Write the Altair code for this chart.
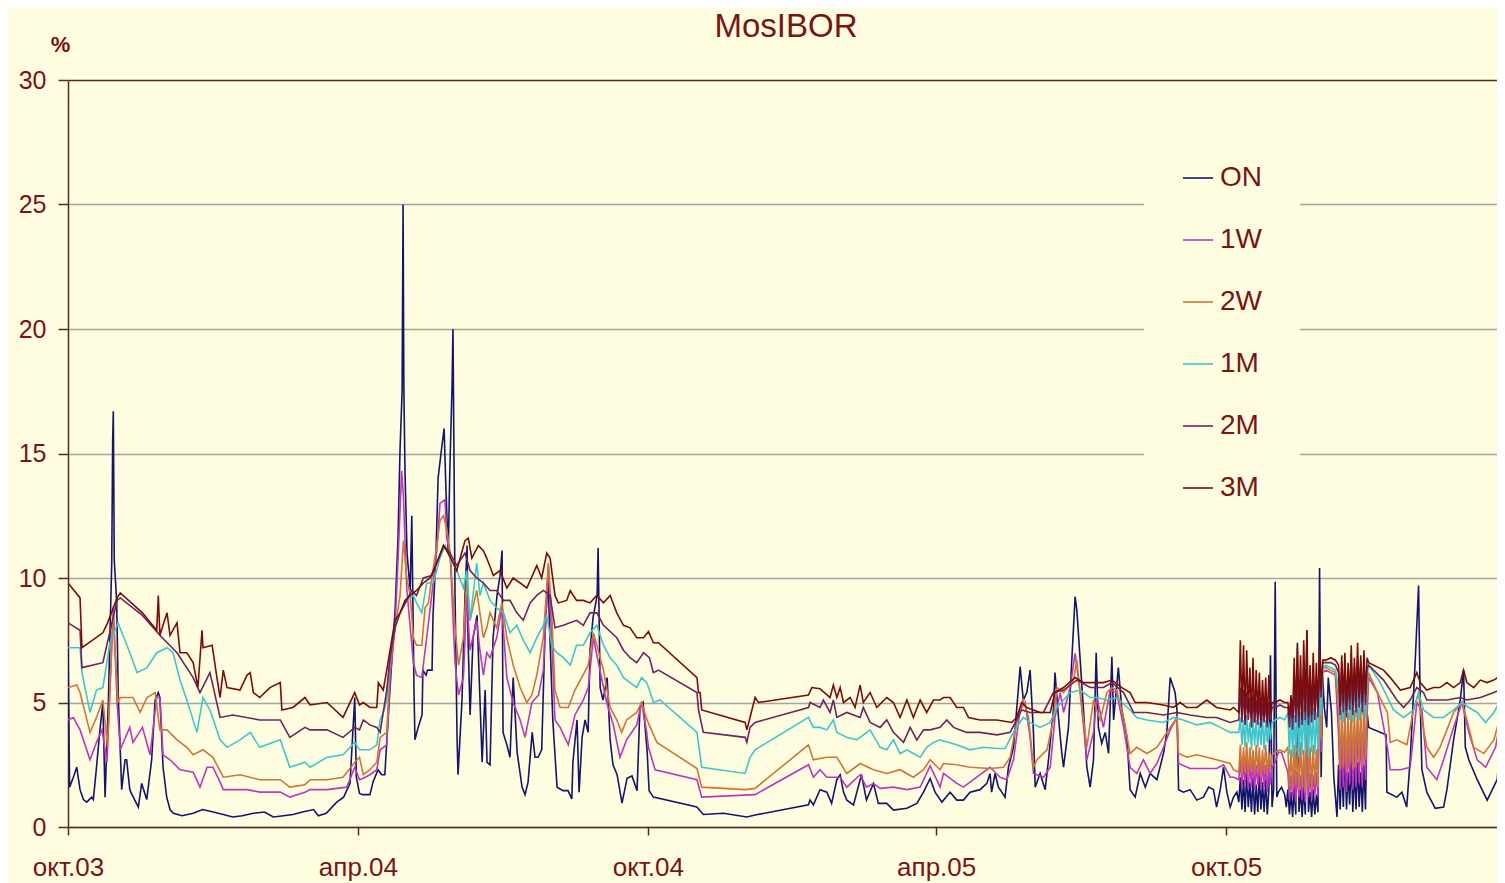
import altair as alt
import pandas as pd

# ---------------- data (day = days since 2003-10-01, value in %) ----------------
chart_title = "MosIBOR"
series_names = ["ON", "1W", "2W", "1M", "2M", "3M"]
series_colors = ["#14146e", "#bd36bd", "#cf7538", "#3cc6cf", "#6e2260", "#7a0c0c"]

x_tick_dates = ["2003-10-01", "2004-04-01", "2004-10-01", "2005-04-01", "2005-10-01"]
x_tick_labels = ["окт.03", "апр.04", "окт.04", "апр.05", "окт.05"]
y_ticks = [0, 5, 10, 15, 20, 25, 30]

zone1_days = list(range(740, 761))
zone2_days = list(range(770, 793))
zone3_days = list(range(802, 821))

on_pts = [(0,7.5),(1,1.6),(3.4,2.0),(5.5,2.4),(7.6,1.5),(9.7,1.1),(11.8,1.0),(15,1.2),(16,1.1),(18,2.4),(20,3.8),(22,5.0),(23.4,1.2),(25.5,5.1),(27.6,10.6),(28.2,15.5),(28.6,16.7),(29.2,10.7),(30.7,9.1),(31.8,5.1),(33.9,1.5),(36,2.7),(37,2.7),(39,1.5),(40,1.35),(44.4,0.8),(46.5,1.75),(49.7,1.1),(52.8,2.7),(55,5.1),(57,5.4),(58,5.2),(60,2.4),(62.3,1.2),(64.4,0.7),(66.5,0.55),(72,0.45),(79,0.55),(85,0.7),(91.7,0.6),(98,0.5),(104,0.4),(110,0.45),(117,0.55),(124,0.6),(129.6,0.4),(136,0.45),(142,0.5),(148,0.6),(155,0.7),(158,0.45),(163,0.55),(169.6,1.0),(174,1.2),(178,1.75),(181,5.2),(182,2.0),(184,1.35),
(186,1.3),(190.6,1.3),(192.5,1.8),(195.7,2.3),(198,2.1),(200,2.1),(202,4.3),(204.5,6.8),(206.4,8.6),(208.3,11.6),(209.6,15.2),(210.9,17.5),(211.5,25.0),(212,17.65),(212.7,14.3),(214,11.0),(216,9.5),(217,12.5),(218.4,5.5),(219,3.5),(221,4.0),(223.5,4.5),(224,6.3),(226,6.1),(227,6.3),(229.8,6.3),(230.4,8.5),(232.3,11.0),(233.6,14.0),(236,15.3),(237.4,16.0),(238.6,13.5),(240,11.0),(241,14.3),(242.4,17.65),(243,20.0),(243.7,14.3),(244.3,9.3),(245.6,3.5),(246.2,2.1),(248.7,5.1),(250.6,9.3),(251.9,11.3),(252.5,7.6),(253.8,4.5),(255.7,7.6),(258.2,8.5),(261.4,2.6),(263.3,5.5),(264.5,2.6),(266.4,2.5),(268.3,7.6),(270.8,9.3),(272.7,10.1),(274,11.1),(274.6,3.8),(277,3.3),(279,2.8),(281,6.0),(283.5,3.0),(286.6,1.6),(288.5,1.3),(290.4,1.8),(293,3.8),(294.8,2.8),(296.7,2.8),(299,3.1),(301,7.6),(303,10.1),(304,8.0),(306,4.3),(308.7,1.6),(312.5,1.46),(315.6,1.46),(318,1.13),(318.7,2.6),(321.3,4.3),(322.6,1.4),(324.5,3.6),(326.4,4.3),(328.3,3.8),(329.5,7.1),(331.4,8.4),(334,9.3),(334.6,11.2),(335.9,5.6),(337.7,5.1),(340.3,6.0),(342.2,3.5),(344,2.5),(346.6,2.1),(349.7,0.96),(352.9,1.96),(356,2.05),(359.2,1.46),(361,4.8),(363,5.0),(365.5,3.1),(366.8,1.46),
(369.5,1.2),(397,0.8),(401,0.5),(413.7,0.55),(428.5,0.4),(433.7,0.48),(467.4,0.89),(468.4,1.08),(470.5,0.89),(474.7,1.5),(479,1.4),(482,0.95),(485.3,1.9),(487.4,2.1),(489.5,1.4),(491.6,1.08),(495.8,0.89),(500,1.9),(501,2.05),(504,1.08),(508.4,1.75),(511.5,0.95),(516.8,0.95),(521,0.68),(529.5,0.75),(535.8,0.95),(540,1.4),(544.2,1.95),
(547.3,1.4),(551.6,1.0),(556.8,1.4),(561,1.08),(565.2,1.08),(569.4,1.4),(575.7,1.5),(580,1.75),(582,2.15),(583,1.4),(585.2,2.15),(587.3,1.6),(589.4,1.4),(591.5,1.2),(593.6,2.4),(596.8,3.2),(599.3,5.1),(601,6.44),(603,5.1),(605.2,5.4),(607.3,6.3),(609.4,3.8),(610.5,1.6),(613.6,2.15),(616.8,1.5),(618.9,2.7),(622,4.7),(623,6.2),(625.2,4.4),(627.3,2.96),(628.4,2.4),(631.5,4.0),(633.6,6.7),(635.7,9.25),(636.8,8.7),(638.9,6.7),(641,4.7),(643.1,2.4),(645.2,1.6),(647.3,2.7),(649,7.0),(650.4,4.0),(652.5,3.36),(654.7,3.8),(656.8,2.96),(658.9,6.84),(660,4.3),(663,6.4),(665.2,4.7),(668.4,3.6),(670.4,1.5),(673.6,1.2),(676.8,2.15),(680,1.6),(683,2.15),(687.3,1.9),(691.5,2.96),(693.6,3.8),(695.7,6.0),(698.8,5.4),(700,4.7),(701,1.5),(704,1.4),(708.3,1.5),(712.5,1.08),(716.7,1.2),(720,1.6),(723,1.5),(725,0.8),(727.3,1.5),(729.4,2.4),(731.5,1.4),(733.6,0.8),(735.7,1.2),(737.8,1.4),(739,1.0)]
on_z1 = [2.0,0.7,1.9,0.6,2.2,0.8,1.8,0.6,2.0,0.5,1.7,0.6,2.1,0.7,1.8,0.6,1.9,0.5,1.5,6.9,0.8]
on_gap1 = [(761,1.5),(762,9.85),(763,1.2),(764,1.4),(766,1.6),(768,1.3),(769,0.8)]
on_z2 = [1.5,0.5,1.4,0.4,1.6,0.5,7.4,0.6,1.5,0.4,1.6,0.5,7.9,0.6,1.4,0.4,1.5,0.5,1.3,0.6,10.4,2.0,6.0]
on_gap2 = [(793,4.8),(794.5,4.0),(795.5,6.0),(797.5,4.6),(799,2.0),(801,0.4)]
on_z3 = [2.5,0.7,2.6,0.8,3.0,0.7,2.2,0.9,2.7,0.6,2.4,0.7,2.6,0.8,2.2,0.6,2.5,0.7,4.6]
on_tail = [(821,4.0),(832,3.7),(832.5,1.4),(838.8,1.2),(842,1.4),(845,0.8),(847.2,2.7),(850.4,6.7),(852.5,9.7),(853.5,5.1),(854.6,2.3),(857.7,1.4),(863,0.75),(868.3,0.8),(870.4,1.5),(874.6,3.5),(878.8,5.1),(880.9,6.3),(882,3.2),(884.2,2.7),(889.5,1.9),(895.8,1.08),(902.1,1.9),(907,5.4)]

w1_pts = [(0,4.3),(3.4,4.4),(7.6,3.9),(13.9,2.7),(18,3.4),(21.5,3.9),(24.6,2.6),(28.6,8.85),(31,5.0),(33,3.1),(39,4.0),(41,3.4),(47,4.0),(51.8,2.9),(56,5.2),(58,5.2),(60,2.9),(64.4,2.7),(70.7,2.3),(79,2.2),(83.3,1.6),(87.8,2.4),(91.5,2.4),(96,1.8),(98,1.5),(113,1.5),(121,1.4),(134,1.4),(140,1.2),(149.6,1.4),(152.8,1.5),(163.5,1.5),(176,1.6),(181,2.4),(184,1.9),
(186.4,1.96),(190.6,2.1),(194.9,2.3),(197,3.1),(201.2,3.3),(203.3,6.0),(206.4,8.0),(208.5,11.0),(210.6,14.3),(211.7,13.3),(213.8,9.6),(218,6.6),(220,6.1),(223.3,6.0),(226.4,7.6),(229.6,9.3),(232.8,11.1),(234.8,13.0),(238,13.15),(239,11.6),(241.2,11.0),(244.3,6.6),(246.5,5.3),(249.6,6.0),(251.7,9.3),(253.8,7.1),(258,8.3),(260,7.1),(262.2,6.1),(264.3,7.0),(266.4,6.8),(270.6,7.6),(273.8,8.8),(277,6.0),(281,5.0),(285.4,4.3),(288.5,3.6),(292.8,5.0),(297,5.3),(300,6.3),(303.2,10.5),(305.3,7.6),(307.4,4.3),(310.6,4.0),(315.8,3.3),(320,4.5),(325.3,5.1),(328.4,5.6),(331.6,7.6),(334.8,6.6),(340,5.0),(344.2,4.1),(348.4,2.8),(352.6,3.5),(359,4.1),(362,5.0),(365.3,3.8),(366.4,3.2),
(370.6,2.3),(397,1.9),(400,1.2),(433.7,1.3),(467.4,2.5),(470.5,2.0),(474.7,2.3),(479,2.0),(487.4,2.0),(491.6,1.6),(500,2.1),(504,1.6),(508.4,1.75),(512.6,1.55),(521,1.6),(529.5,1.5),(537.9,1.6),(544.2,2.45),(550.5,1.6),
(552.6,2.15),(561,1.75),(565.2,1.6),(573.6,2.0),(582,2.4),(588.4,2.0),(592.6,1.9),(596.8,2.7),(601,4.7),(604.1,5.0),(607.3,3.6),(609.4,2.15),(615.7,2.0),(620,2.4),(623,4.4),(626.3,5.4),(628.4,4.6),(632.6,5.6),(635.7,6.97),(638.9,5.4),(643.1,2.7),(647.3,3.8),(649.4,5.2),(653.6,4.0),(657.8,5.5),(662,5.4),(666.3,4.0),(670.4,2.4),(674.6,2.15),(678.8,2.7),(683,2.15),(687.3,2.55),(691.5,3.2),(695.7,3.9),(700,4.4),(701,2.55),(708.3,2.35),(716.7,2.35),(725,2.35),(729.4,2.5),(733.6,2.0),(736,2.0),(739,1.9)]
w1_z1 = [2.7,1.6,2.6,1.7,2.8,1.5,2.6,1.6,2.7,1.5,2.5,1.7,2.6,1.5,2.7,1.6,2.5,1.4,2.6,1.7,2.4]
w1_gap1 = [(762,2.6),(764,3.0),(766,3.0),(768,2.6)]
w1_z2 = [2.2,1.1,2.1,1.2,2.3,1.0,2.2,1.2,2.1,1.1,2.3,1.0,7.0,1.2,2.2,1.1,2.1,1.3,2.2,1.2,6.8,3.0,6.2]
w1_gap2 = [(794,6.3),(797,6.2),(800,6.1)]
w1_z3 = [3.7,1.5,3.6,1.6,3.8,1.4,3.5,1.7,3.9,1.5,3.6,1.6,4.0,1.8,3.8,1.6,4.1,1.9,4.5]
w1_tail = [(821,6.0),(826.5,5.4),(832.8,3.2),(834.6,2.3),(841,2.3),(847.2,2.4),(851.4,5.0),(854.6,4.7),(857.7,2.4),(864,1.9),(868.3,2.7),(874.6,4.0),(879.9,5.0),(884.2,3.8),(889.5,2.7),(894.8,2.4),(901.1,3.2),(907,5.4)]

w2_pts = [(0,5.6),(5.5,5.7),(7.6,5.4),(13.9,3.8),(18,4.4),(22,5.1),(25,3.2),(28.4,8.5),(31.6,5.0),(33,5.2),(41,5.2),(45.5,4.6),(49.9,5.2),(55,5.4),(58,3.9),(62.5,3.9),(68.8,3.5),(75,3.2),(79,2.9),(85.2,3.1),(91.5,2.8),(98,2.0),(108.6,2.1),(121,1.9),(134,1.9),(140,1.6),(149.6,1.7),(152.8,1.9),(163.5,1.9),(173.6,2.0),(181,2.6),(184,2.8),
(186.4,2.1),(190.6,2.3),(194.9,2.6),(197,3.6),(201.2,3.8),(203.3,6.5),(206.4,8.0),(209.6,9.3),(211.7,11.5),(213.8,10.0),(216,9.3),(218,7.6),(220,7.3),(223.3,7.3),(225.4,8.8),(227.5,9.0),(229.6,10.0),(232.8,11.3),(234.8,12.3),(237,12.5),(239,12.0),(241.2,11.0),(244.3,8.0),(246.5,6.5),(249.6,7.6),(251.7,10.0),(253.8,8.3),(258,9.5),(260,8.6),(262.2,7.6),(264.3,8.0),(266.4,8.6),(270.6,8.0),(273.8,9.0),(277,7.6),(281,6.5),(285.4,5.6),(289.6,5.0),(292.8,5.3),(295.9,6.1),(300,7.6),(303.2,10.6),(305.3,8.6),(307.4,5.5),(310.6,4.8),(315.8,4.8),(320,5.5),(324.2,6.0),(328.4,6.5),(331.6,7.8),(333.8,7.3),(338,6.3),(342.2,4.8),(346.4,4.3),(349.5,3.8),(352.6,4.3),(359,4.6),(362,5.0),(365.5,4.3),
(371.7,3.4),(397,2.35),(400,1.6),(427.4,1.5),(433.7,1.55),(467.4,3.3),(470.5,2.7),(474.7,2.75),(479,2.8),(485.3,2.8),(491.6,2.15),(500,2.55),(508.4,2.3),(516.8,2.15),(525.2,2.3),(533.6,2.0),(540,2.3),(544.2,2.7),(550.5,2.3),
(552.6,2.55),(561,2.5),(569.4,2.4),(582,2.35),(590.5,2.4),(594.7,2.8),(598.8,4.2),(603,5.1),(606.3,4.4),(609.4,2.4),(611.6,2.7),(617.9,3.1),(622,4.3),(624.2,5.6),(628.4,5.4),(634.7,5.9),(636.8,6.7),(638.9,5.4),(643.1,3.2),(647.3,5.1),(651.5,4.3),(655.7,5.4),(658.9,5.6),(662,5.5),(666.3,4.4),(670.4,2.95),(674.6,3.2),(681,2.95),(687.3,3.2),(691.5,3.6),(695.7,4.0),(700,4.4),(701,2.95),(706.2,2.8),(712.5,2.9),(718.8,2.8),(725,2.7),(733.6,2.55),(735.7,2.3),(739,2.2)]
w2_z1 = [3.3,2.1,3.2,2.2,3.4,2.0,3.2,2.3,3.1,2.1,3.3,2.2,3.2,2.0,3.1,2.2,3.3,2.1,3.0,2.3,2.9]
w2_gap1 = [(762,3.0),(765,3.1),(768,3.0)]
w2_z2 = [3.2,1.6,3.1,1.5,3.3,1.7,3.2,1.5,3.4,1.6,3.1,1.4,5.8,1.6,3.2,1.5,3.3,1.7,3.1,1.6,5.5,3.5,6.4]
w2_gap2 = [(794,6.4),(797,6.3),(800,6.2)]
w2_z3 = [4.9,2.3,4.7,2.4,4.8,2.2,4.6,2.5,4.9,2.3,4.7,2.4,5.0,2.6,4.8,2.4,5.1,2.7,5.3]
w2_tail = [(821,6.2),(826.5,5.4),(832.8,4.6),(834.6,3.4),(838.8,3.5),(845.1,3.3),(849.3,4.7),(852.5,5.4),(853.5,4.7),(857.7,3.2),(862,2.8),(866,3.2),(870.4,3.9),(874.6,4.6),(879.9,5.0),(883,4.3),(887.3,3.2),(893.7,2.95),(900,3.5),(907,5.1)]

m1_pts = [(0,7.2),(7.6,7.2),(8.8,6.2),(13.9,4.6),(18,5.5),(22,5.6),(26.5,7.4),(31.6,8.2),(39,7.0),(43.6,6.2),(49.9,6.4),(56,7.0),(62.5,7.2),(66.3,7.0),(70.7,5.9),(75,5.1),(81.4,3.8),(85.2,5.2),(89.6,4.7),(96,3.5),(100.4,3.2),(108.6,3.5),(115,3.8),(121,3.2),(134,3.5),(140,2.4),(149.6,2.6),(152.8,2.4),(163.5,2.8),(173.6,2.9),(181,3.4),(184,3.1),
(190.6,3.1),(194.9,3.3),(197,4.3),(199,4.6),(201.2,5.1),(203.3,6.8),(206.4,8.0),(209.6,8.6),(213.8,9.1),(218,9.3),(220,9.0),(223.3,8.6),(226.4,9.8),(230.6,9.8),(234.8,10.8),(238,11.3),(241.2,10.8),(245.4,10.3),(249.6,9.6),(251.7,10.3),(253.8,8.3),(258,10.6),(260,9.3),(262.2,9.8),(266.4,9.1),(270.6,8.8),(274.9,8.6),(279,7.8),(283.3,8.1),(287.4,7.5),(291.7,7.0),(295.9,7.6),(300,8.1),(302.2,8.5),(305.3,7.3),(308.5,7.0),(312.7,6.8),(317,6.5),(321,7.3),(325.3,7.3),(329.5,7.8),(333.8,8.1),(338,7.3),(342.2,6.8),(346.4,6.5),(350.6,6.0),(354.8,5.8),(359,5.6),(362,6.0),(365.3,5.8),(367,5.5),
(369.5,5.0),(373.7,5.1),(397,3.8),(400,2.4),(427.4,2.15),(430.5,2.8),(433.7,3.1),(467.4,4.4),(470.5,4.0),(474.7,4.0),(479,3.9),(483.1,4.3),(485.3,3.8),(491.6,3.6),(497.9,3.5),(506.3,3.9),(512.6,3.2),(516.8,3.1),(521,3.5),(525.2,2.95),(529.5,3.1),(533.6,2.95),(537.9,2.8),(542,3.2),(546.3,3.4),(550.5,3.5),
(552.6,3.45),(561,3.3),(569.4,3.1),(577.8,3.2),(586.3,3.15),(591.5,3.15),(596.8,3.8),(603,4.4),(607.3,4.2),(613.6,4.0),(620,4.2),(624.2,4.8),(632.6,5.4),(638.9,5.5),(645.2,5.2),(649.4,5.2),(655.7,5.1),(662,5.2),(670.4,4.7),(674.6,4.4),(681,4.3),(691.5,4.2),(697.8,4.4),(704,4.3),(712.5,4.1),(720.9,4.2),(727.3,4.0),(733.6,3.8),(739,3.8)]
m1_z1 = [4.4,3.3,4.3,3.2,4.5,3.4,4.2,3.1,4.4,3.3,4.3,3.2,4.2,3.3,4.4,3.1,4.3,3.4,4.2,3.5,4.2]
m1_gap1 = [(762,4.3),(765,4.4),(768,4.3)]
m1_z2 = [4.6,2.9,4.7,2.8,4.5,3.0,4.8,2.8,4.6,2.9,4.9,3.0,5.2,2.8,4.7,3.0,4.8,2.9,4.6,3.1,5.5,4.5,6.4]
m1_gap2 = [(794,6.5),(797,6.4),(800,6.3)]
m1_z3 = [5.6,4.3,5.7,4.2,5.5,4.4,5.8,4.3,5.6,4.2,5.7,4.4,5.9,4.3,5.6,4.5,5.8,4.4,6.0]
m1_tail = [(821,6.5),(828.3,5.8),(836.7,4.7),(843,4.4),(849.3,4.7),(852.5,5.4),(855.6,4.7),(862,4.4),(868.3,4.4),(874.6,4.7),(879.9,5.0),(884.2,4.8),(889.5,4.6),(894.8,4.2),(900,4.6),(907,5.4)]

m2_pts = [(0,8.2),(7.6,7.9),(8.8,6.4),(22,6.6),(31,9.1),(33,9.2),(47,8.5),(58,7.7),(68.8,7.0),(79,6.0),(83.3,5.4),(89.6,6.2),(96,4.4),(104,4.5),(121,4.3),(134,4.3),(140,3.6),(149.6,4.0),(152.8,3.9),(163.5,3.9),(173.6,3.6),(181,4.0),(184,3.9),
(186.4,4.3),(190.6,4.1),(194.9,4.0),(197,3.8),(199,4.6),(201.2,5.5),(203.3,6.8),(206.4,8.0),(209.6,8.6),(213.8,9.1),(217,9.5),(220,9.3),(224.3,10.0),(229.6,10.1),(232.8,10.6),(237,11.3),(241.2,11.0),(245.4,10.5),(250.6,11.0),(253.8,10.3),(258,10.0),(262.2,9.8),(266.4,9.5),(270.6,9.5),(274.9,9.1),(279,9.1),(283.3,8.6),(287.4,8.3),(291.7,9.0),(295.9,9.3),(300,9.5),(304.3,9.3),(307.4,8.0),(312.7,8.1),(321,8.3),(325.3,8.1),(329.5,8.6),(333.8,8.6),(338,8.1),(346.4,7.6),(350.6,7.1),(354.8,6.8),(359,6.6),(363.3,7.0),(367,6.8),
(369.5,6.2),(372.7,6.3),(397,5.4),(398,4.7),(401,3.8),(427.4,3.6),(428.5,3.4),(430.5,4.0),(433.7,4.2),(467.4,4.8),(468.4,5.0),(474.7,4.8),(476.8,5.1),(481,4.6),(483.1,5.1),(485.3,4.4),(491.6,4.6),(500,4.4),(502,4.8),(506.3,4.2),(512.6,4.0),(516.8,4.3),(521,3.8),(527.4,3.4),(531.6,4.0),(535.8,3.5),(540,3.9),(544.2,3.9),(550.5,4.0),
(554.7,4.3),(559,4.0),(563.1,3.9),(567.3,3.8),(575.7,3.8),(586.3,3.7),(594.7,3.8),(598.8,4.3),(602,4.7),(607.3,4.6),(615.7,4.6),(622,5.4),(628.4,5.5),(636.8,5.9),(645.2,5.6),(653.6,5.6),(658.9,5.8),(666.3,5.4),(672.6,4.6),(681,4.6),(691.5,4.5),(700,4.6),(708.3,4.5),(718.8,4.4),(725,4.4),(733.6,4.2),(739,4.3)]
m2_z1 = [5.6,4.2,5.5,4.1,5.4,4.3,5.2,4.0,5.3,4.2,5.1,4.1,5.2,4.0,5.0,4.2,5.1,4.0,5.0,4.3,4.8]
m2_gap1 = [(762,4.8),(765,4.9),(768,4.8)]
m2_z2 = [4.8,4.0,5.2,3.9,5.8,4.2,6.0,4.0,5.9,4.1,6.3,4.3,6.6,4.1,5.9,4.2,6.1,4.3,6.0,4.4,6.5,5.2,6.6]
m2_gap2 = [(794,6.6),(797,6.6),(800,6.5)]
m2_z3 = [6.2,4.5,6.4,4.6,6.5,4.4,6.3,4.7,6.6,4.5,6.4,4.6,6.7,4.8,6.5,4.6,6.6,4.9,6.4]
m2_tail = [(821,6.5),(830.4,5.9),(834.6,5.5),(838.8,5.1),(843,4.8),(847.2,5.1),(851.4,5.6),(855.6,5.4),(857.7,5.1),(862,5.1),(870.4,5.1),(878.8,5.2),(883,5.1),(891.5,5.2),(900,5.4),(907,5.6)]

m3_pts = [(0,9.8),(7.6,9.2),(8.8,7.2),(22,7.8),(25,8.2),(31,9.2),(33,9.4),(47,8.6),(56,7.9),(57,9.3),(58,7.7),(62.5,8.6),(64.4,7.7),(68.8,8.2),(70.7,7.0),(75,7.0),(79,6.6),(82,5.6),(84.6,7.9),(85.2,7.2),(91,7.3),(94,6.0),(96,5.2),(98,6.3),(100.4,5.6),(108.6,5.5),(113,6.1),(115,6.2),(117,5.4),(121,5.2),(127.5,5.6),(134,5.8),(135,4.7),(142,4.8),(149.6,5.2),(152.8,4.9),(163.5,5.0),(173.6,4.4),(181,5.4),(184,4.9),
(186.4,5.0),(190.6,4.8),(194.9,4.8),(195.9,5.8),(199,5.5),(201.2,6.3),(203.3,7.1),(206.4,8.3),(209.6,8.6),(212.7,9.1),(216,9.3),(220,9.5),(224.3,9.8),(228.5,10.0),(232.8,10.6),(237,11.3),(239,11.1),(243.3,10.6),(245.4,10.3),(250.6,11.5),(252.7,11.6),(254.9,10.8),(259,11.3),(262.2,11.1),(264.3,10.8),(268.5,10.1),(272.7,10.3),(277,9.6),(281,10.0),(285.4,9.8),(289.6,9.6),(295.9,10.5),(299,10.0),(302.2,11.0),(304.3,10.8),(307.4,9.3),(309.5,9.0),(314.8,9.1),(317,9.5),(321,9.1),(325.3,9.1),(329.5,9.0),(333.8,9.3),(338,9.0),(342.2,9.3),(346.4,8.6),(350.6,8.1),(354.8,8.0),(359,7.6),(363.3,7.6),(366.4,7.85),
(369.5,7.4),(372.7,7.4),(397,6.0),(398,5.4),(399,5.4),(400,4.7),(427.4,4.2),(428.5,3.9),(430.5,4.4),(433.7,5.2),(435.8,5.0),(467.4,5.3),(469.5,5.6),(474.7,5.55),(481,5.2),(483.1,5.7),(485.3,5.2),(487.4,5.6),(489.5,5.0),(493.7,5.2),(496.8,4.8),(500,5.7),(502,5.0),(506.3,5.4),(510.5,4.8),(516.8,5.2),(521,5.0),(525.2,4.4),(529.5,5.1),(533.6,4.4),(537.9,5.1),(542,4.6),(546.3,5.1),(550.5,5.1),
(552.6,5.2),(556.8,5.2),(561,4.8),(565.2,4.8),(568.4,4.4),(575.7,4.3),(586.3,4.3),(595.7,4.2),(598.8,4.4),(602,5.0),(605.2,4.8),(609.4,4.7),(613.6,4.6),(620,4.6),(623,5.4),(628.4,5.6),(635.7,6.0),(641,5.8),(647.3,5.8),(653.6,5.8),(658.9,5.9),(665.2,5.6),(670.4,5.4),(673.6,5.0),(681,5.0),(691.5,4.9),(697.8,4.8),(702,5.0),(706.2,4.8),(712.5,4.8),(718.8,5.1),(725,4.8),(733.6,4.7),(735.7,4.8),(739,4.6)]
m3_z1 = [7.5,4.5,7.3,4.3,7.1,4.6,6.4,4.4,6.8,4.2,6.3,4.5,6.2,4.3,5.9,4.4,6.0,4.2,6.1,4.5,5.0]
m3_gap1 = [(762,5.0),(765,5.1),(768,5.0)]
m3_z2 = [5.0,4.5,5.3,4.4,6.8,4.6,7.2,4.5,6.9,4.3,7.5,4.6,7.9,4.4,6.5,4.5,7.0,4.6,6.6,4.8,7.2,5.5,6.7]
m3_gap2 = [(794,6.7),(797,6.8),(800,6.7)]
m3_z3 = [6.5,4.8,6.9,5.0,7.0,4.7,6.6,5.1,7.3,4.9,6.8,5.0,7.4,5.2,6.9,5.0,7.1,5.3,6.8]
m3_tail = [(821,6.6),(830.4,6.3),(834.6,6.0),(841,5.5),(847.2,5.6),(851.4,6.2),(853.5,5.8),(857.7,5.5),(862,5.6),(866,5.6),(870.4,5.8),(874.6,5.6),(878.8,5.8),(880.9,6.3),(883,5.8),(887.3,5.6),(891.5,5.9),(895.7,5.8),(900,5.9),(907,6.2)]

parts = {
    "ON": (on_pts, on_z1, on_gap1, on_z2, on_gap2, on_z3, on_tail),
    "1W": (w1_pts, w1_z1, w1_gap1, w1_z2, w1_gap2, w1_z3, w1_tail),
    "2W": (w2_pts, w2_z1, w2_gap1, w2_z2, w2_gap2, w2_z3, w2_tail),
    "1M": (m1_pts, m1_z1, m1_gap1, m1_z2, m1_gap2, m1_z3, m1_tail),
    "2M": (m2_pts, m2_z1, m2_gap1, m2_z2, m2_gap2, m2_z3, m2_tail),
    "3M": (m3_pts, m3_z1, m3_gap1, m3_z2, m3_gap2, m3_z3, m3_tail),
}

rows = []
for order, name in enumerate(series_names):
    pts, z1, g1, z2, g2, z3, tail = parts[name]
    allpts = (list(pts) + list(zip(zone1_days, z1)) + list(g1) + list(zip(zone2_days, z2))
              + list(g2) + list(zip(zone3_days, z3)) + list(tail))
    for d, v in allpts:
        rows.append({"series": name, "order": order, "day": d, "value": v})

df = pd.DataFrame(rows).drop_duplicates(subset=["series", "day"]).sort_values(["order", "day"])
base = pd.Timestamp("2003-10-01", tz="UTC")
df["date"] = (base + pd.to_timedelta(df["day"], unit="D")).dt.strftime("%Y-%m-%dT%H:%M:%SZ")
df = df[["series", "date", "value"]]

# ---------------- styling ----------------
bg = "#FFFDE0"
text_color = "#7a1414"
axis_color = "#5e2424"
grid_gray = "#a4a4a0"
font = "Liberation Sans"

def ms(s):
    return int(pd.Timestamp(s, tz="UTC").value // 10**6)

x_start = ms("2003-10-01")
x_end = x_start + 902 * 86400000
tick_ms = [ms(d) for d in x_tick_dates]

label_expr = "''"
for d, lab in reversed(list(zip(x_tick_dates, x_tick_labels))):
    label_expr = f"utcFormat(datum.value, '%Y-%m') == '{d[:7]}' ? '{lab}' : ({label_expr})"

x_enc = alt.X(
    "date:T",
    scale=alt.Scale(type="utc", domain=[x_start, x_end]),
    axis=alt.Axis(
        values=tick_ms, labelExpr=label_expr, title=None, grid=False,
        domainColor=axis_color, domainWidth=1.5, tickColor=axis_color, tickWidth=1.5,
        tickSize=8, labelFontSize=26, labelColor=text_color, labelFont=font,
        labelPadding=19, labelFlush=False, labelOverlap=False,
    ),
)
y_enc = alt.Y(
    "value:Q",
    scale=alt.Scale(domain=[0, 30], nice=False),
    axis=alt.Axis(
        values=y_ticks, title="%", titleAngle=0, titleX=-8, titleY=-36,
        titleAlign="center", titleBaseline="middle", titleFontSize=22,
        titleColor=text_color, titleFont=font, titleFontWeight="bold",
        labelFontSize=25, labelColor=text_color, labelFont=font, labelPadding=12,
        tickSize=10, tickColor=axis_color, tickWidth=1.5,
        domainColor=axis_color, domainWidth=1.5,
        gridColor={"condition": {"test": "datum.value == 30", "value": axis_color}, "value": grid_gray},
        gridWidth=1.6,
    ),
)

lines = alt.Chart(df).mark_line(strokeWidth=1.6, clip=True).encode(
    x=x_enc,
    y=y_enc,
    color=alt.Color(
        "series:N",
        sort=series_names,
        scale=alt.Scale(domain=series_names, range=series_colors),
        legend=alt.Legend(
            title=None, orient="none", legendX=1076, legendY=44,
            fillColor=bg, padding=38, symbolType="stroke", symbolSize=900,
            symbolStrokeWidth=1.6, labelFontSize=28, labelColor=text_color,
            labelFont=font, labelOffset=6, rowPadding=32,
        ),
    ),
    order=alt.Order("date:T"),
)

title_mark = alt.Chart(pd.DataFrame({"t": [chart_title]})).mark_text(
    fontSize=33, color=text_color, font=font, align="center", baseline="alphabetic",
).encode(text="t:N", x=alt.value(718), y=alt.value(-43))

chart = (
    alt.layer(lines, title_mark)
    .properties(
        width=1429, height=747,
        padding={"left": 60, "top": 72, "right": 0, "bottom": 56},
        autosize=alt.AutoSizeParams(type="none"),
        background=bg,
    )
    .configure_view(stroke=None)
)

chart.save("out.html", embed_options={"renderer": "svg", "actions": False})
